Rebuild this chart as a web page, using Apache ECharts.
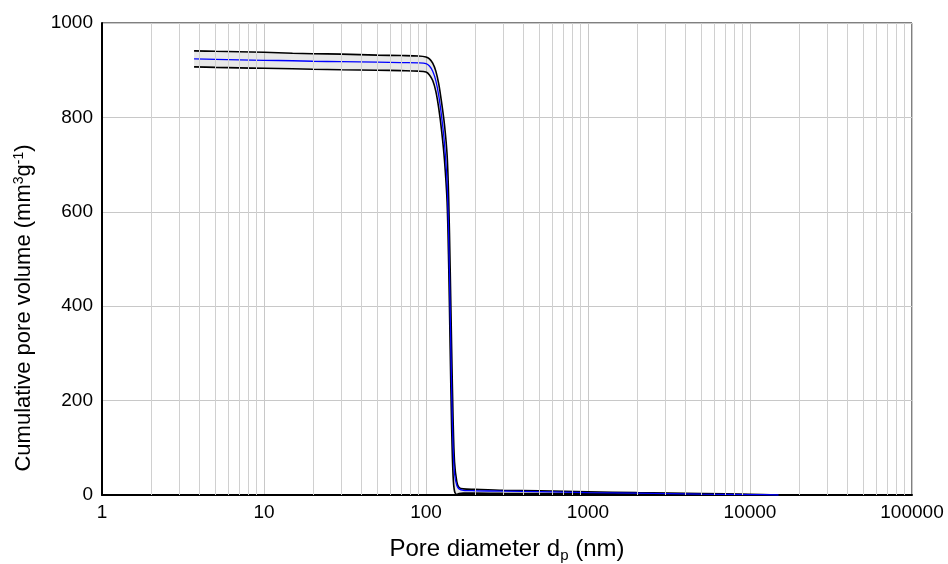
<!DOCTYPE html>
<html>
<head>
<meta charset="utf-8">
<script src="https://cdn.jsdelivr.net/npm/echarts@6/dist/echarts.min.js"></script>
<style>html,body{margin:0;padding:0;background:#fff}#c{width:948px;height:564px}</style>
</head>
<body>
<div id="c"></div>
<script>
const poreDiameter = [3.7, 5, 7, 10, 15, 20, 30, 50, 70, 90, 100, 105, 110, 115, 120, 125, 130, 135, 138, 141, 144, 147, 150, 155, 160, 170, 200, 300, 500, 1000, 2000, 5000, 10000, 15000];
const volumeUpper = [941, 940, 939, 938, 936, 935, 934, 932, 931, 930, 928, 924, 915, 898, 870, 830, 785, 720, 630, 480, 310, 160, 70, 28, 16, 13, 12, 10, 9, 7, 5, 3, 1.5, 0];
const volumeMean  = [924, 923, 922, 921, 920, 919, 918, 917, 916, 915.5, 914, 909, 898, 878, 845, 800, 745, 660, 550, 390, 220, 100, 45, 20, 13, 10, 9, 8, 7, 5, 4, 2, 1, 0];
const volumeLower = [907, 906, 905, 904, 903, 902, 901, 900, 899, 898, 896, 890, 878, 855, 818, 770, 710, 620, 490, 310, 140, 40, 8, 1, 3, 4, 4, 3.5, 3, 3, 2, 1, 0.5, 0];
const xTicks = [1, 10, 100, 1000, 10000, 100000];
const yTicks = [0, 200, 400, 600, 800, 1000];
const minorMultipliers = [2, 3, 4, 5, 6, 7, 8, 9];

const minorLines = [];
for (let k = 0; k < xTicks.length - 1; k++) {
  minorMultipliers.forEach(m => minorLines.push({ xAxis: m * xTicks[k] }));
}
const pairs = arr => poreDiameter.map((x, i) => [x, arr[i]]);
const FONT = 'Liberation Sans, Arial';

const chart = echarts.init(document.getElementById('c'));
chart.setOption({
  animation: false,
  backgroundColor: '#fff',
  grid: { left: 102, right: 36, top: 23, bottom: 69, containLabel: false, outerBoundsMode: 'none',
    show: true, borderColor: '#000', borderWidth: 1, backgroundColor: 'transparent' },
  xAxis: {
    type: 'log', logBase: 10, min: xTicks[0], max: xTicks[xTicks.length - 1],
    name: 'Pore diameter d{sub|p} (nm)', nameLocation: 'middle', nameGap: 40,
    nameTextStyle: { fontFamily: FONT, fontSize: 24, color: '#000',
      rich: { sub: { fontSize: 15, fontFamily: FONT, color: '#000', padding: [13, 0, 0, 0] } } },
    axisLine: { show: true, lineStyle: { color: '#000', width: 2 } },
    axisTick: { show: false },
    axisLabel: { color: '#000', fontFamily: FONT, fontSize: 19, margin: 8,
      formatter: v => String(Math.round(v)) },
    splitLine: { show: true, lineStyle: { color: '#c8c8c8', width: 1 } },
    minorTick: { show: false }, minorSplitLine: { show: false }
  },
  yAxis: {
    type: 'value', min: yTicks[0], max: yTicks[yTicks.length - 1], interval: 200,
    axisLine: { show: true, lineStyle: { color: '#000', width: 2 } },
    axisTick: { show: false },
    axisLabel: { color: '#000', fontFamily: FONT, fontSize: 19, margin: 9,
      formatter: v => String(Math.round(v)) },
    splitLine: { show: true, lineStyle: { color: '#c8c8c8', width: 1 } }
  },
  graphic: [{
    type: 'text', x: 12, y: 308, rotation: Math.PI / 2, silent: true,
    style: {
      text: 'Cumulative pore volume (mm{sup|3}g{sup|-1})',
      fontFamily: FONT, fontSize: 22, fill: '#000',
      align: 'center', verticalAlign: 'top',
      rich: { sup: { fontSize: 14, fontFamily: FONT, fill: '#000', padding: [0, 0, 10, 0] } }
    }
  }],
  series: [
    {
      type: 'custom', name: 'band', silent: true, z: 1, clip: true,
      data: [[poreDiameter[0], volumeUpper[0]]],
      renderItem: function (params, api) {
        const pts = [];
        for (let i = 0; i < poreDiameter.length; i++) pts.push(api.coord([poreDiameter[i], volumeUpper[i]]));
        for (let i = poreDiameter.length - 1; i >= 0; i--) pts.push(api.coord([poreDiameter[i], Math.max(volumeLower[i], 0.01)]));
        return { type: 'polygon', shape: { points: pts, smooth: 0 }, style: { fill: 'rgba(0,0,0,0.09)', stroke: null } };
      }
    },
    {
      type: 'line', name: 'minor', data: [], silent: true,
      markLine: { silent: true, symbol: ['none', 'none'], label: { show: false },
        lineStyle: { color: '#d0d0d0', width: 1, type: 'solid' }, data: minorLines, animation: false }
    },
    { type: 'line', name: 'upper', data: pairs(volumeUpper), smooth: 0.3, showSymbol: false, z: 3,
      lineStyle: { color: '#000', width: 1.6 } },
    { type: 'line', name: 'lower', data: pairs(volumeLower), smooth: 0.3, showSymbol: false, z: 3,
      lineStyle: { color: '#000', width: 1.6 } },
    { type: 'line', name: 'mean', data: pairs(volumeMean), smooth: 0.3, showSymbol: false, z: 4,
      lineStyle: { color: '#0000ff', width: 1.3 } }
  ]
});
</script>
</body>
</html>
